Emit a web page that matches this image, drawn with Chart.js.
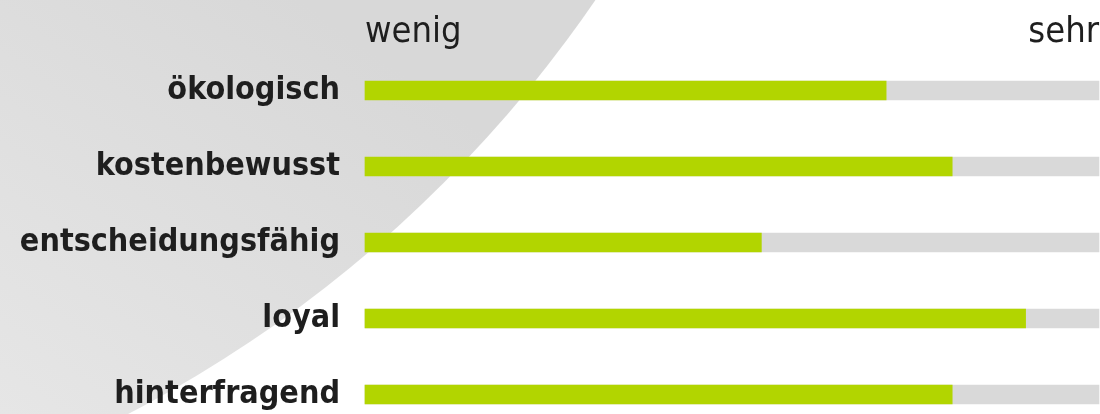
<!DOCTYPE html>
<html>
<head>
<meta charset="utf-8">
<script src="https://cdn.jsdelivr.net/npm/chart.js@4"></script>
<style>
  html, body { margin: 0; padding: 0; background: #fff; }
  #wrap { width: 1100px; height: 414px; }
</style>
</head>
<body>
<div id="wrap"><canvas id="grafico"></canvas></div>
<script>
const categorias = ['ökologisch', 'kostenbewusst', 'entscheidungsfähig', 'loyal', 'hinterfragend'];
const werte = [71, 80, 54, 90, 80];
const maximum = [100, 100, 100, 100, 100];
const skalaLabels = ['wenig', 'sehr'];

const schrift = "'DejaVu Sans Condensed', 'Liberation Sans Narrow', Roboto, sans-serif";

// grauer Bogen im Hintergrund
const hintergrund = {
  id: 'hintergrund',
  beforeDraw(chart) {
    const ctx = chart.ctx;
    ctx.save();
    const grad = ctx.createLinearGradient(300, 0, 0, 414);
    grad.addColorStop(0, '#d8d8d8');
    grad.addColorStop(1, '#e6e6e6');
    ctx.fillStyle = grad;
    ctx.beginPath();
    ctx.arc(-462, -723, 1281, 0, Math.PI * 2);
    ctx.fill();
    ctx.restore();
  }
};

const config = {
  type: 'bar',
  data: {
    labels: categorias,
    datasets: [
      {
        label: 'Wert',
        data: werte,
        backgroundColor: '#b2d500',
        barThickness: 19,
        grouped: false,
        clip: false,
        order: 1,
      },
      {
        label: 'Maximum',
        data: maximum,
        backgroundColor: '#d9d9d9',
        barThickness: 19,
        grouped: false,
        clip: false,
        order: 2,
      },
    ],
  },
  options: {
    indexAxis: 'y',
    responsive: true,
    maintainAspectRatio: false,
    animation: false,
    layout: { padding: { top: 0.5, right: 1, bottom: 19.5, left: 0 } },
    plugins: {
      legend: { display: false },
      tooltip: { enabled: false },
    },
    scales: {
      x: {
        position: 'top',
        min: 0,
        max: 100,
        border: { display: false },
        grid: { display: false, drawTicks: false },
        ticks: {
          stepSize: 100,
          align: 'inner',
          padding: 36,
          color: '#1e1e1e',
          font: { family: schrift, size: 36 },
          callback: (v) => v === 0 ? skalaLabels[0] : (v === 100 ? skalaLabels[1] : ''),
        },
        afterFit(scale) {
          scale.height = 90;
          scale.paddingLeft = 0;
          scale.paddingRight = 0;
        },
      },
      y: {
        offset: false,
        border: { display: false },
        grid: { display: false, drawTicks: false },
        ticks: {
          padding: 25,
          color: '#1e1e1e',
          font: { family: schrift, size: 32, weight: 'bold' },
        },
        afterFit(scale) {
          scale.width = 365;
          scale.paddingTop = 0;
          scale.paddingBottom = 0;
        },
      },
    },
  },
  plugins: [hintergrund],
};

new Chart(document.getElementById('grafico'), config);
</script>
</body>
</html>
